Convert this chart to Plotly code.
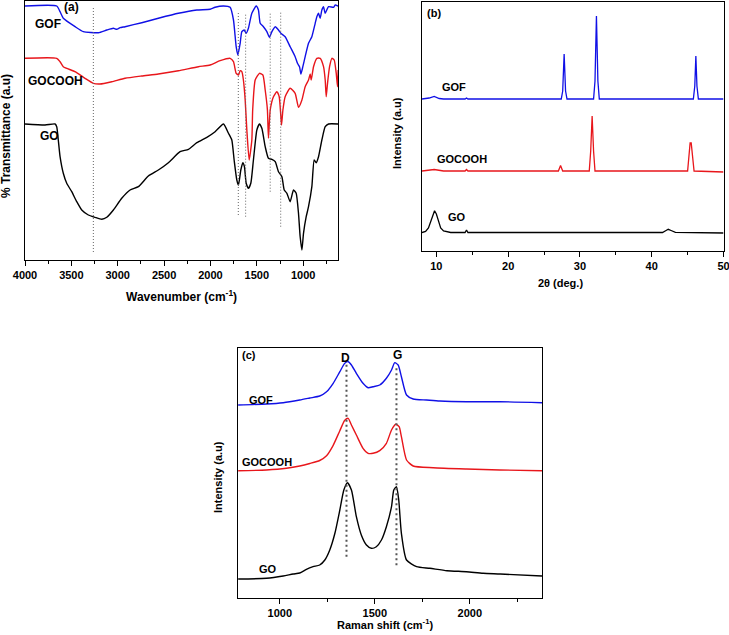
import plotly.graph_objects as go

# ---------------- (a) FTIR ----------------
ftir_gof_x = [4000, 3658, 3622, 3587, 3460, 3371, 3209, 3118, 3047, 3011, 2975, 2921, 2741, 2562, 2346, 2147, 2004, 1950, 1860, 1788, 1752, 1723, 1705, 1680, 1662, 1637, 1615, 1591, 1554, 1507, 1483, 1464, 1429, 1392, 1364, 1338, 1302, 1267, 1241, 1195, 1141, 1087, 1062, 1040, 1025, 1004, 979, 943, 907, 871, 853, 835, 817, 799, 781, 763, 727, 673, 655, 623]
ftir_gof_y = [254, 254, 248.3, 241.7, 233.3, 228.3, 227.3, 230, 231.7, 230.7, 232.3, 233.3, 237.3, 241.7, 246.7, 250, 250.7, 252.7, 254, 252.7, 240, 213.3, 205, 216.7, 228.3, 230, 226.7, 231.7, 246.7, 254, 250, 236.7, 233.3, 228.3, 222.7, 228.3, 233.3, 230, 226.7, 223.3, 213.3, 203.3, 196.7, 193.3, 186, 193.3, 203.3, 216.7, 223.3, 236.7, 243.3, 246.7, 241.7, 250, 253.3, 246.7, 253.3, 252.7, 255, 254]

ftir_gocooh_x = [4000, 3658, 3622, 3587, 3460, 3353, 3263, 3191, 3064, 2921, 2741, 2562, 2346, 2130, 2004, 1896, 1788, 1752, 1723, 1698, 1680, 1662, 1645, 1626, 1608, 1583, 1554, 1545, 1518, 1472, 1435, 1410, 1386, 1375, 1356, 1321, 1284, 1259, 1241, 1234, 1219, 1195, 1141, 1087, 1051, 1014, 979, 943, 925, 914, 889, 853, 817, 781, 763, 752, 738, 716, 691, 666, 644, 630, 623]
ftir_gocooh_y = [201.7, 201.7, 198.3, 193.3, 188.3, 181.7, 176.7, 176, 178.3, 181.7, 184, 186, 189.3, 193.3, 195, 199.3, 201.7, 198.3, 186.7, 185, 189.3, 188.3, 180, 160, 130, 100, 120, 150, 180, 186.7, 185, 170, 150, 121.7, 150, 163.3, 168.3, 163.3, 143.3, 135, 150, 163.3, 171.7, 166.7, 152.7, 160, 173.3, 180, 186, 180, 193.3, 201.7, 201.7, 193.3, 180, 163.3, 176.7, 193.3, 201.7, 200, 186.7, 173.3, 190]

ftir_go_x = [4000, 3784, 3676, 3658, 3641, 3622, 3587, 3550, 3496, 3442, 3388, 3317, 3245, 3172, 3118, 3047, 2957, 2867, 2777, 2670, 2562, 2454, 2328, 2238, 2147, 2039, 1950, 1860, 1806, 1770, 1745, 1716, 1698, 1673, 1651, 1634, 1615, 1591, 1565, 1537, 1500, 1472, 1446, 1410, 1375, 1338, 1302, 1267, 1230, 1205, 1176, 1141, 1105, 1076, 1051, 1033, 1014, 997, 968, 943, 907, 882, 860, 835, 799, 763, 727, 623]
ftir_go_y = [136, 135, 136, 133.3, 120, 103.3, 86.7, 76.7, 68.3, 58.3, 50, 45, 42.7, 40.7, 42.7, 50, 61.7, 70, 73.3, 84, 90, 97.3, 108.3, 110.7, 117.3, 122.7, 128.3, 136, 126.7, 120, 100, 80, 75, 90, 97.3, 93.3, 76.7, 71.7, 76.7, 100, 130, 136, 131.7, 113.3, 101.7, 100.7, 98.3, 88.3, 83.3, 70, 66.7, 58.3, 70, 66.7, 46.7, 23.3, 10, 26.7, 43.3, 53.3, 73.3, 100, 97.3, 103.3, 120, 133.3, 136, 136]

ftir_ref_lines = [3263, 1700, 1621, 1356, 1243]
ftir_ref_bottom = [8, 45, 43.3, 68.3, 33.3]
ftir_ref_top = [254, 248.3, 247, 247.3, 247.3]

# ---------------- (b) XRD ----------------
xrd_gof_x = [8, 9, 9.7, 10.4, 11, 14, 14.2, 14.4, 27.4, 27.6, 27.8, 28.0, 28.2, 31.9, 32.1, 32.3, 32.5, 32.7, 45.8, 46.0, 46.15, 46.3, 46.5, 50]
xrd_gof_y = [152, 153, 154.5, 152.5, 152, 152, 153, 152, 152, 160, 197, 160, 152, 152, 170, 235, 170, 152, 152, 165, 195, 165, 152, 152]

xrd_gocooh_x = [8, 9.7, 11, 14.0, 14.2, 14.4, 27.0, 27.3, 27.6, 31.3, 31.5, 31.7, 31.9, 32.1, 45.0, 45.2, 45.35, 45.5, 45.7, 45.9, 50]
xrd_gocooh_y = [80, 81.5, 80, 80, 81.5, 80, 80, 85.5, 80, 80, 100, 135, 100, 80, 80, 95, 108, 108, 95, 80, 79]

xrd_go_x = [8, 8.5, 8.9, 9.2, 9.5, 9.75, 10.0, 10.3, 10.6, 11.0, 11.6, 12, 14.0, 14.2, 14.4, 41.5, 42.0, 42.3, 42.7, 43.3, 50]
xrd_go_y = [18.5, 19.5, 23, 29, 36, 40.3, 37, 29, 23, 20, 18.8, 18.5, 18.5, 21, 18.5, 18.5, 20.5, 21.7, 20.5, 18.7, 18]

# ---------------- (c) Raman ----------------
raman_gof_x = [781, 930, 1018, 1105, 1158, 1210, 1246, 1281, 1316, 1342, 1360, 1377, 1403, 1438, 1465, 1491, 1526, 1561, 1588, 1605, 1623, 1640, 1667, 1702, 1772, 1842, 1982, 2158, 2380]
raman_gof_y = [193, 194, 195.3, 198, 200, 202, 206.3, 214.7, 226.3, 234.7, 236.3, 233, 224.7, 214.7, 210.3, 211.3, 213, 219.7, 228, 235.3, 233, 221.3, 203, 199, 198, 197, 196.3, 196.3, 195.3]

raman_gocooh_x = [781, 930, 1035, 1105, 1158, 1210, 1246, 1281, 1316, 1342, 1360, 1377, 1403, 1438, 1465, 1491, 1526, 1561, 1588, 1610, 1628, 1640, 1667, 1702, 1807, 1982, 2158, 2380]
raman_gocooh_y = [127.3, 128, 129.7, 132, 134.5, 137.5, 142.3, 152.7, 167.3, 177.7, 179.7, 173, 163, 149.7, 144.7, 144.7, 147.3, 154.7, 168, 173.7, 171.3, 161.3, 138, 132, 130.3, 129, 128, 127.3]

raman_go_x = [781, 930, 1018, 1070, 1105, 1140, 1175, 1210, 1237, 1263, 1290, 1316, 1337, 1356, 1377, 1403, 1429, 1456, 1482, 1508, 1535, 1561, 1588, 1600, 1614, 1626, 1640, 1667, 1720, 1790, 1880, 1982, 2070, 2160, 2380]
raman_go_y = [19, 19.7, 22, 24, 25, 28.7, 31.3, 33, 38, 48, 64.7, 88, 108, 115.3, 108, 81.3, 63, 53, 49.7, 51.3, 58, 71.3, 91.3, 108, 111.3, 98, 64.7, 38, 31.3, 29.7, 27.3, 26.3, 24.7, 24, 22]

raman_ref_lines = [1351, 1614]
raman_ref_bottom = [41.3, 32.7]
raman_ref_top = [234.7, 231.3]

BLUE = "#1010e6"
RED = "#e8161b"
BLACK = "#000000"
FONT = "Liberation Sans"

W, H = 729, 635


def px(x):
    return x / W


def py(y):
    return 1 - y / H


fig = go.Figure()

for xs, ys, c in [(ftir_gof_x, ftir_gof_y, BLUE), (ftir_gocooh_x, ftir_gocooh_y, RED), (ftir_go_x, ftir_go_y, BLACK)]:
    fig.add_trace(go.Scatter(x=xs, y=ys, mode="lines", line=dict(color=c, width=1.4, shape="spline", smoothing=0.5),
                             xaxis="x", yaxis="y", showlegend=False))
for xs, ys, c in [(xrd_gof_x, xrd_gof_y, BLUE), (xrd_gocooh_x, xrd_gocooh_y, RED), (xrd_go_x, xrd_go_y, BLACK)]:
    fig.add_trace(go.Scatter(x=xs, y=ys, mode="lines", line=dict(color=c, width=1.3),
                             xaxis="x2", yaxis="y2", showlegend=False))
for xs, ys, c in [(raman_gof_x, raman_gof_y, BLUE), (raman_gocooh_x, raman_gocooh_y, RED), (raman_go_x, raman_go_y, BLACK)]:
    fig.add_trace(go.Scatter(x=xs, y=ys, mode="lines", line=dict(color=c, width=1.4, shape="spline", smoothing=0.6),
                             xaxis="x3", yaxis="y3", showlegend=False))

shapes = []
for xv, y0, y1 in zip(ftir_ref_lines, ftir_ref_bottom, ftir_ref_top):
    shapes.append(dict(type="line", xref="x", yref="y", x0=xv, x1=xv, y0=y0, y1=y1,
                       line=dict(color="#666666", width=1, dash="1px,2px")))
for xv, y0, y1 in zip(raman_ref_lines, raman_ref_bottom, raman_ref_top):
    shapes.append(dict(type="line", xref="x3", yref="y3", x0=xv, x1=xv, y0=y0, y1=y1,
                       line=dict(color="#555555", width=2, dash="2px,3px")))

tickfont = dict(family=FONT, size=11, color="black", weight="bold")
common_x = dict(showline=True, linecolor="black", linewidth=1.2, mirror=True, ticks="outside", ticklen=5,
                tickwidth=1, tickcolor="black", showgrid=False, zeroline=False, tickfont=tickfont,
                automargin=False, ticklabeloverflow="allow")
common_y = dict(showline=True, linecolor="black", linewidth=1.2, mirror=True, ticks="", showticklabels=False,
                showgrid=False, zeroline=False, automargin=False)

fig.update_layout(
    width=W, height=H, margin=dict(l=0, r=0, t=0, b=0, pad=0, autoexpand=False),
    paper_bgcolor="white", plot_bgcolor="white",
    xaxis=dict(common_x, domain=[px(25), px(338)], range=[4000, 625], tick0=1000, dtick=500,
               minor=dict(ticks="outside", ticklen=3, dtick=250, tick0=1000, tickcolor="black"), anchor="y"),
    yaxis=dict(common_y, domain=[py(260), py(1)], range=[0, 259], anchor="x"),
    xaxis2=dict(common_x, domain=[px(422), px(723.5)], range=[8, 50], tick0=10, dtick=10,
                minor=dict(ticks="outside", ticklen=3, dtick=5, tick0=10, tickcolor="black"), anchor="y2"),
    yaxis2=dict(common_y, domain=[py(251), py(2)], range=[0, 249], anchor="x2"),
    xaxis3=dict(common_x, domain=[px(238), px(542)], range=[780, 2380], tick0=1000, dtick=500,
                minor=dict(ticks="outside", ticklen=3, dtick=250, tick0=1000, tickcolor="black"), anchor="y3"),
    yaxis3=dict(common_y, domain=[py(598), py(348)], range=[0, 250], anchor="x3"),
    shapes=shapes,
)

ann = []


def label(text, x, y, size=12, angle=0, xanchor="center"):
    ann.append(dict(text=text, x=px(x), y=py(y), xref="paper", yref="paper", showarrow=False,
                    xanchor=xanchor, yanchor="middle", textangle=angle,
                    font=dict(family=FONT, size=size, color="black")))


# panel (a)
label("<b>(a)</b>", 62, 7, 12, xanchor="left")
label("<b>GOF</b>", 33, 24, 12, xanchor="left")
label("<b>GOCOOH</b>", 26, 81, 12, xanchor="left")
label("<b>GO</b>", 38, 136, 12, xanchor="left")
label("<b>% Transmittance (a.u)</b>", 6, 136, 12, angle=-90)
label("<b>Wavenumber (cm<sup>-1</sup>)</b>", 181, 296, 12)
# panel (b)
label("<b>(b)</b>", 425, 13, 11, xanchor="left")
label("<b>GOF</b>", 440, 87, 11, xanchor="left")
label("<b>GOCOOH</b>", 435, 159, 11, xanchor="left")
label("<b>GO</b>", 446, 217, 11, xanchor="left")
label("<b>Intensity (a.u)</b>", 397, 133, 11, angle=-90)
label("<b>2θ (deg.)</b>", 560, 283, 11)
# panel (c)
label("<b>(c)</b>", 240, 355, 11, xanchor="left")
label("<b>D</b>", 345, 358, 12)
label("<b>G</b>", 397, 355, 12)
label("<b>GOF</b>", 247, 400, 11, xanchor="left")
label("<b>GOCOOH</b>", 240, 462, 11, xanchor="left")
label("<b>GO</b>", 257, 569, 11, xanchor="left")
label("<b>Intensity (a.u)</b>", 218, 477, 11, angle=-90)
label("<b>Raman shift (cm<sup>-1</sup>)</b>", 385, 624, 11)

fig.update_layout(annotations=ann)
fig.write_html("out.html", config={"displayModeBar": False},
               post_script="document.body.style.margin='0px';document.body.style.overflow='hidden';")
